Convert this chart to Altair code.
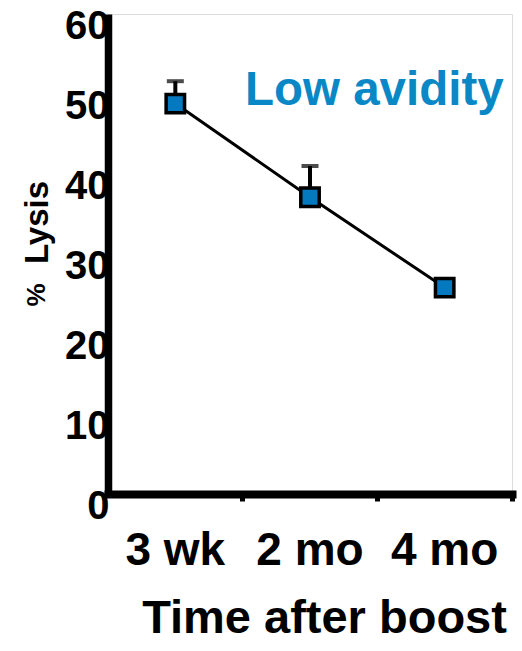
import altair as alt
import pandas as pd

categories = ["3 wk", "2 mo", "4 mo"]
lysis = [48.8, 37.1, 25.8]
err_upper = [51.6, 41.0, 26.3]
y_ticks = [0, 10, 20, 30, 40, 50, 60]
group_label = ["Low avidity"]

FONT = "Liberation Sans"
BLUE_FILL = "#0479BF"
BLUE_TEXT = "#0A88C6"

df = pd.DataFrame({"time": categories, "lysis": lysis, "upper": err_upper})

x_enc = alt.X(
    "time:N",
    sort=categories,
    bandPosition=0.5,
    scale=alt.Scale(type="band", paddingInner=0, paddingOuter=0),
    axis=alt.Axis(
        title="Time after boost",
        domainColor="black",
        domainWidth=8,
        domainCap="square",
        tickColor="black",
        tickWidth=5,
        tickSize=7,
        bandPosition=1,
        labelAngle=0,
        labelFont=FONT,
        labelFontWeight="bold",
        labelFontSize=46,
        labelColor="black",
        labelPadding=27,
        titleFont=FONT,
        titleFontWeight="bold",
        titleFontSize=47,
        titleColor="black",
        titleX=216,
        titleY=138,
        titleBaseline="alphabetic",
        grid=False,
    ),
)

y_scale = alt.Scale(domain=[0, 60], nice=False, zero=True)
y_enc = alt.Y(
    "lysis:Q",
    scale=y_scale,
    axis=alt.Axis(
        values=y_ticks,
        title="Lysis",
        domainColor="black",
        domainWidth=7.5,
        ticks=False,
        tickSize=0,
        labelFont=FONT,
        labelFontWeight="bold",
        labelFontSize=40,
        labelColor="black",
        labelPadding=-1,
        labelOffset=12,
        titleFont=FONT,
        titleFontWeight="bold",
        titleFontSize=33,
        titleColor="black",
        titleAngle=270,
        titleX=-71,
        titleY=208,
        titleAlign="center",
        titleBaseline="middle",
        grid=False,
    ),
)

base = alt.Chart(df)

line = base.mark_line(color="black", strokeWidth=3).encode(x=x_enc, y=y_enc)

err_rule = base.mark_rule(color="black", strokeWidth=4).encode(
    x=alt.X("time:N", sort=categories, bandPosition=0.5),
    y=alt.Y("lysis:Q", scale=y_scale),
    y2="upper:Q",
)

err_cap = base.mark_tick(color="black", thickness=4, size=17, orient="horizontal").encode(
    x=alt.X("time:N", sort=categories, bandPosition=0.5),
    y=alt.Y("upper:Q", scale=y_scale),
)

points = base.mark_square(
    size=340, fill=BLUE_FILL, stroke="black", strokeWidth=3.5, opacity=1, filled=True
).encode(
    x=alt.X("time:N", sort=categories, bandPosition=0.5),
    y=alt.Y("lysis:Q", scale=y_scale),
)

label = alt.Chart(pd.DataFrame({"t": group_label})).mark_text(
    font=FONT, fontWeight="bold", fontSize=47.5, color=BLUE_TEXT,
    align="left", baseline="alphabetic",
).encode(x=alt.value(137), y=alt.value(91), text="t:N")

pct = alt.Chart(pd.DataFrame({"t": ["%"]})).mark_text(
    font=FONT, fontWeight="bold", fontSize=26, color="black",
    align="center", baseline="middle", angle=270,
).encode(x=alt.value(-71), y=alt.value(281), text="t:N")

chart = alt.layer(line, err_rule, err_cap, points, label, pct).properties(
    width=404,
    height=480,
    padding={"left": 108, "top": 14, "right": 10, "bottom": 157},
    autosize=alt.AutoSizeParams(type="none"),
).configure_view(stroke=None).configure(background="white")

chart.save("out.html", embed_options={"renderer": "svg", "actions": False})
